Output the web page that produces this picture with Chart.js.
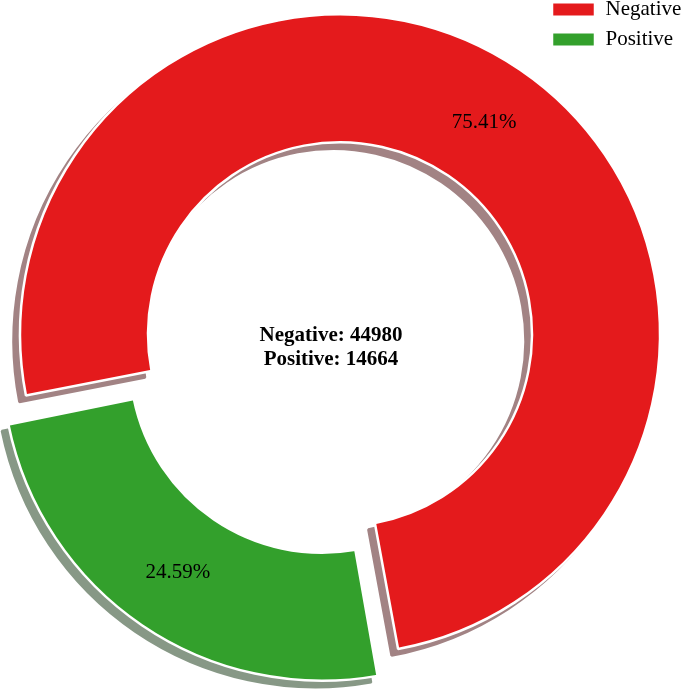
<!DOCTYPE html>
<html lang="en">
<head>
<meta charset="utf-8">
<title>Negative vs Positive</title>
<script src="https://cdn.jsdelivr.net/npm/chart.js@4.4.1/dist/chart.umd.min.js"></script>
<style>
  html, body { margin: 0; padding: 0; background: #fff; }
  canvas { display: block; }
</style>
</head>
<body>
<canvas id="my-chart" width="688" height="690"></canvas>
<script>
'use strict';

// DATA

let labels = ['Negative', 'Positive'];
let counts = [44980, 14664];

// STYLE

let sliceColors = ['#e41a1c', '#33a02c'];
let shadowColors = ['rgb(162, 131, 132)', 'rgb(135, 152, 134)'];
let fontFamily = "'Liberation Serif', 'Times New Roman', serif";

let startAngle = -80;     // first slice starts here and runs counter-clockwise
let explodeOffset = 64;   // chart.js pushes an arc out by offset / 4
let shadowShift = 6.5;
let lineGap = 24;

let total = counts.reduce((a, b) => a + b, 0);

// chart.js draws clockwise from 12 o'clock, so begin at the far end of slice one
let rotation = 90 - (startAngle + 360 * counts[0] / total);

// PLUGINS

// an arc wider than 180deg also gets its radius grown by offset / 4; undo that
let explodeFix = {
  id: 'explodeFix',
  afterDatasetUpdate(chart, args) {
    args.meta.data.forEach(arc => {
      let fix = 1 - Math.sin(Math.min(Math.PI, arc.circumference));
      let grow = (arc.options.offset / 4) * fix;
      arc.outerRadius -= grow;
      arc.innerRadius -= grow;
    });
  }
};

// drop shadow: draw every arc again, shifted, in a dull copy of its colour
let shadows = {
  id: 'shadows',
  beforeDatasetsDraw(chart) {
    let ctx = chart.ctx;
    chart.getDatasetMeta(0).data.forEach((arc, i) => {
      let saved = arc.options;
      arc.options = Object.assign({}, saved, {
        backgroundColor: shadowColors[i],
        borderColor: shadowColors[i]
      });
      ctx.save();
      ctx.translate(-shadowShift, shadowShift);
      arc.draw(ctx);
      ctx.restore();
      arc.options = saved;
    });
  }
};

let sliceText = {
  id: 'sliceText',
  afterDatasetsDraw(chart) {
    let ctx = chart.ctx;
    let meta = chart.getDatasetMeta(0);
    let midRadius = (meta.controller.innerRadius + meta.controller.outerRadius) / 2;

    ctx.save();
    ctx.fillStyle = '#000';
    ctx.textAlign = 'center';
    ctx.textBaseline = 'middle';

    ctx.font = '21px ' + fontFamily;
    meta.data.forEach((arc, i) => {
      let half = (arc.startAngle + arc.endAngle) / 2;
      let dist = arc.options.offset / 4 + midRadius;
      let pct = (counts[i] / total * 100).toFixed(2) + '%';
      ctx.fillText(pct, arc.x + Math.cos(half) * dist, arc.y + Math.sin(half) * dist);
    });

    // counts in the hole
    let cx = meta.data[0].x;
    let cy = meta.data[0].y;
    let lines = labels.map((name, i) => name + ': ' + counts[i]);
    ctx.font = 'bold 21px ' + fontFamily;
    lines.forEach((line, i) => {
      ctx.fillText(line, cx, cy + (i - (lines.length - 1) / 2) * lineGap);
    });
    ctx.restore();
  }
};

// legend sits over the top right corner without taking room from the pie
let legendSpot = {
  id: 'legendSpot',
  beforeDraw(chart) {
    let legend = chart.legend;
    legend.left = 543;
    legend.right = chart.width;
    legend.width = legend.right - legend.left;
    legend.top = -10;
  }
};

// CHART

let ctx = document.getElementById('my-chart').getContext('2d');

new Chart(ctx, {
  type: 'doughnut',
  data: {
    labels: labels,
    datasets: [{
      data: counts,
      backgroundColor: sliceColors,
      borderColor: '#ffffff',
      borderWidth: 2.5,
      offset: explodeOffset,
      hoverOffset: 0
    }]
  },
  options: {
    responsive: false,
    animation: false,
    devicePixelRatio: 1,
    rotation: rotation,
    radius: 320,
    cutout: '60%',
    layout: {
      padding: { left: 0, right: 26, top: 5, bottom: 0 }
    },
    plugins: {
      tooltip: { enabled: false },
      legend: {
        position: 'chartArea',
        align: 'start',
        labels: {
          color: '#000',
          font: { family: fontFamily, size: 21 },
          boxWidth: 43,
          boxHeight: 14.5,
          padding: 9
        }
      }
    }
  },
  plugins: [explodeFix, shadows, sliceText, legendSpot]
});
</script>
</body>
</html>
